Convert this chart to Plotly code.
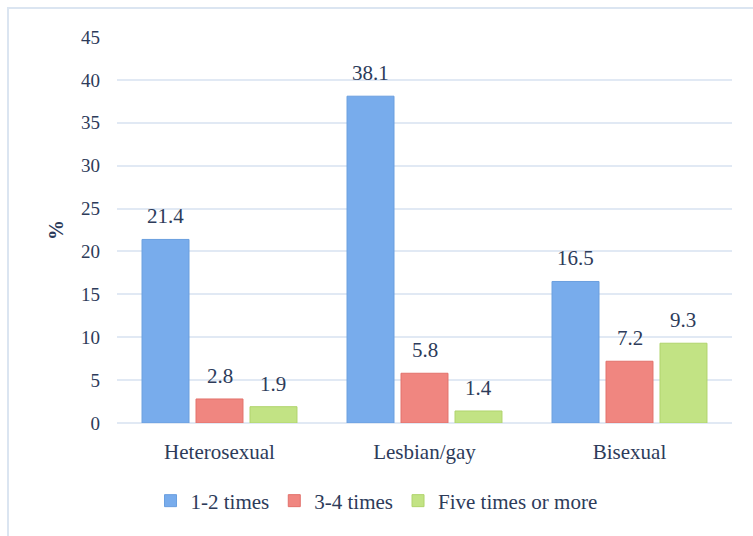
import plotly.graph_objects as go

categories = ["Heterosexual", "Lesbian/gay", "Bisexual"]
series_names = ["1-2 times", "3-4 times", "Five times or more"]
v_12 = [21.4, 38.1, 16.5]
v_34 = [2.8, 5.8, 7.2]
v_5plus = [1.9, 1.4, 9.3]
y_ticks = [0, 5, 10, 15, 20, 25, 30, 35, 40, 45]

colors = ["#78acec", "#f08680", "#c2e384"]
lines = ["#6a9fdf", "#e2716b", "#b0d46c"]
values = [v_12, v_34, v_5plus]

FONT = "Liberation Serif, serif"
TXT = "#2d3b5a"

W, H = 753, 536
L, R, T, B = 117, 21, 37, 113
pw, ph = W - L - R, H - T - B
BARGAP = 0.21

fig = go.Figure()
for name, vals, c, lc in zip(series_names, values, colors, lines):
    fig.add_trace(go.Bar(
        x=categories, y=vals, name=name,
        marker=dict(color=c, line=dict(color=lc, width=1)),
        cliponaxis=False,
    ))

# value labels above bars
slot = (pw / len(categories)) * (1 - BARGAP) / len(values)
for i, vals in enumerate(values):
    for cat, v in zip(categories, vals):
        fig.add_annotation(x=cat, y=v, xref="x", yref="y", text=f"{v:.1f}",
                           showarrow=False, yanchor="bottom",
                           xshift=(i - 1) * slot, yshift=9,
                           font=dict(family=FONT, size=21, color=TXT))

def px_x(p):
    return (p - L) / pw

def px_y(p):
    return (H - B - p) / ph

fig.add_shape(type="rect", xref="paper", yref="paper",
              x0=px_x(8), x1=px_x(760), y0=px_y(8), y1=px_y(545),
              line=dict(color="#dbe5f1", width=2), fillcolor="rgba(0,0,0,0)", layer="below")

fig.update_layout(
    width=W, height=H,
    margin=dict(l=L, r=R, t=T, b=B),
    paper_bgcolor="white", plot_bgcolor="white",
    barmode="group", bargap=BARGAP, bargroupgap=0.13,
    font=dict(family=FONT, size=20, color=TXT),
    showlegend=True,
    legend=dict(orientation="h", x=0.422, xanchor="center", y=px_y(501), yanchor="middle",
                font=dict(family=FONT, size=21, color=TXT), itemwidth=30,
                traceorder="normal"),
    xaxis=dict(showgrid=False, showline=False, ticks="", ticklabelstandoff=14,
               tickfont=dict(family=FONT, size=21, color=TXT)),
    yaxis=dict(range=[0, 45], tickvals=y_ticks, showgrid=True, gridcolor="#e1e9f4",
               gridwidth=2, zeroline=True, zerolinecolor="#e1e9f4", zerolinewidth=2,
               showline=False, ticks="", ticklen=0, ticklabelstandoff=16,
               tickfont=dict(family=FONT, size=19, color=TXT),
               title=dict(text="<b>%</b>", font=dict(family=FONT, size=20, color=TXT), standoff=12)),
)

fig.write_html("out.html")
